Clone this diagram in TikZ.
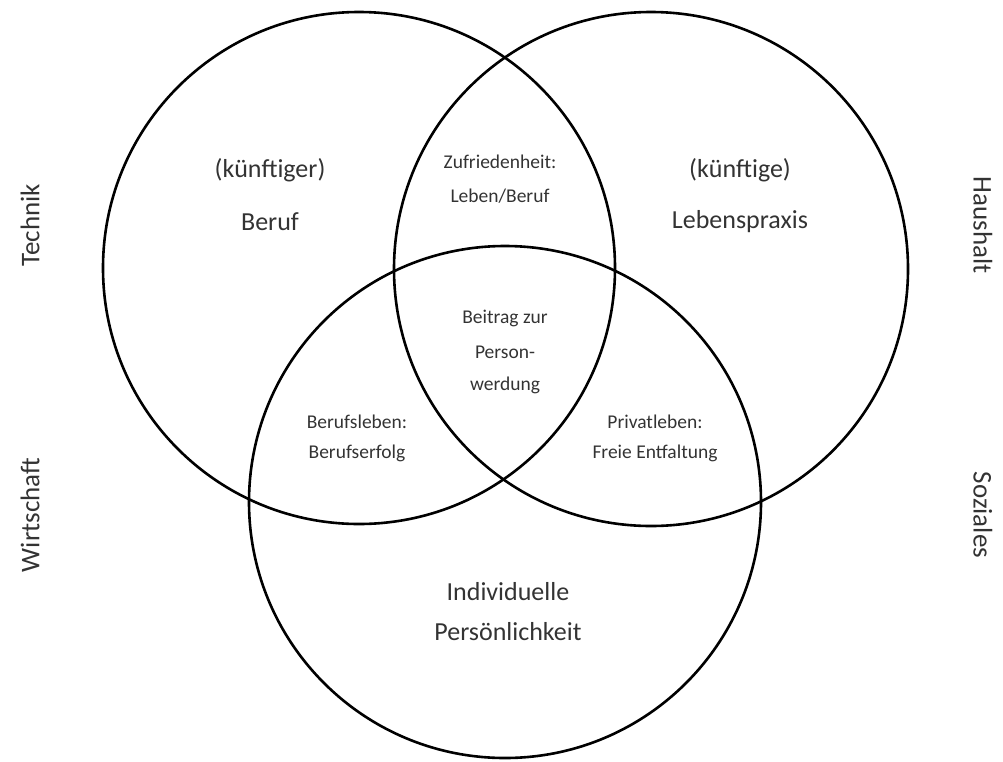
\documentclass[tikz,border=0pt]{standalone}
\usepackage{fontspec}
\setmainfont{Carlito}
\begin{document}
\begin{tikzpicture}[x=1pt,y=-1pt,
  ring/.style={draw=black,line width=2.6pt},
  big/.style={text=black!80,font=\fontsize{26}{30}\selectfont,inner sep=0pt},
  small/.style={text=black!80,font=\fontsize{19.5}{23}\selectfont,inner sep=0pt},
  side/.style={text=black!80,font=\fontsize{27}{31}\selectfont,inner sep=0pt}]
\useasboundingbox (0,0) rectangle (1003,761);
\node[ring,circle,minimum size=512pt,inner sep=0pt] (c1) at (359,268) {};
\node[ring,circle,minimum size=514pt,inner sep=0pt] (c2) at (651,269) {};
\node[ring,circle,minimum size=512pt,inner sep=0pt] (c3) at (505,502) {};
\node[big] (a1) at (270,170) {(künftiger)};
\node[big] (a2) at (270,222) {Beruf};
\node[big] (b1) at (740,170) {(künftige)};
\node[big] (b2) at (740,222) {Lebenspraxis};
\node[small] (z1) at (500,162) {Zufriedenheit:};
\node[small] (z2) at (500,196) {Leben/Beruf};
\node[small] (p1) at (505,318) {Beitrag zur};
\node[small] (p2) at (505,352) {Person-};
\node[small] (p3) at (505,385) {werdung};
\node[small] (l1) at (357,422) {Berufsleben:};
\node[small] (l2) at (357,453) {Berufserfolg};
\node[small] (r1) at (655,422) {Privatleben:};
\node[small] (r2) at (655,453) {Freie Entfaltung};
\node[big] (i1) at (508,592) {Individuelle};
\node[big] (i2) at (508,632) {Persönlichkeit};
\node[side,rotate=90] (t) at (30,225) {Technik};
\node[side,rotate=90] (w) at (30,515) {Wirtschaft};
\node[side,rotate=-90] (h) at (983,225) {Haushalt};
\node[side,rotate=-90] (s) at (983,515) {Soziales};
\end{tikzpicture}
\end{document}
